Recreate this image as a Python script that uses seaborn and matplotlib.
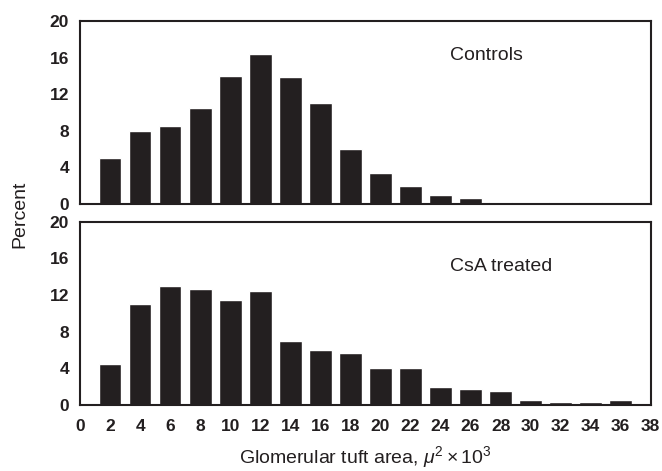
import matplotlib
matplotlib.use("Agg")
import matplotlib.pyplot as plt
import seaborn as sns
import pandas as pd

# bin centres (glomerular tuft area, thousands of square microns)
area = [2, 4, 6, 8, 10, 12, 14, 16, 18, 20, 22, 24, 26, 28, 30, 32, 34, 36]
controls = [5.0, 8.0, 8.5, 10.5, 14.0, 16.4, 13.9, 11.0, 6.0, 3.4, 2.0, 1.0, 0.7, 0.2, 0.0, 0.2, 0.2, 0.0]
csa = [4.5, 11.0, 13.0, 12.7, 11.5, 12.4, 7.0, 6.0, 5.7, 4.0, 4.1, 2.0, 1.7, 1.5, 0.5, 0.3, 0.3, 0.5]
x_ticks = list(range(0, 40, 2))
y_ticks = [0, 4, 8, 12, 16, 20]

sns.set_style("white")
plt.rcParams['font.family'] = ['Liberation Sans', 'DejaVu Sans']
plt.rcParams['mathtext.fontset'] = 'custom'
plt.rcParams['mathtext.rm'] = 'Liberation Sans'
plt.rcParams['mathtext.it'] = 'Liberation Sans:italic'
ink = '#231f20'

fig = plt.figure(figsize=(6.62, 4.71), dpi=100)
ax1 = fig.add_axes([0.121, 0.567, 0.862, 0.388])
ax2 = fig.add_axes([0.121, 0.140, 0.862, 0.389])

panels = [(ax1, controls, 'Controls', 16.3), (ax2, csa, 'CsA treated', 15.1)]
for ax, vals, label, ty in panels:
    df = pd.DataFrame({'area': area, 'pct': vals})
    sns.barplot(data=df, x='area', y='pct', native_scale=True, width=0.75,
                color=ink, saturation=1, ax=ax)
    ax.set_xlim(0, 38)
    ax.set_ylim(0, 20)
    ax.set_yticks(y_ticks)
    ax.set_xticks(x_ticks)
    ax.tick_params(axis='y', direction='in', length=11, width=1.4, labelsize=12.5,
                   pad=8, colors=ink)
    ax.tick_params(axis='x', length=0, labelsize=12.5, pad=10, colors=ink)
    for t in ax.get_yticklabels():
        t.set_fontweight('bold')
    for s in ax.spines.values():
        s.set_linewidth(1.5)
        s.set_color(ink)
    ax.set_xlabel('')
    ax.set_ylabel('')
    ax.text(24.6, ty, label, fontsize=14, va='center', ha='left', color=ink)

ax1.set_xticklabels([])
ax2.set_xticklabels([str(t) for t in x_ticks], fontweight='bold')
ax2.set_xlabel(r'Glomerular tuft area, $\mathit{\mu^2 \times 10^3}$', fontsize=14,
               labelpad=7, color=ink)
fig.text(0.030, 0.545, 'Percent', rotation=90, va='center', ha='center',
         fontsize=14, color=ink)

fig.savefig('out.png', dpi=100)
